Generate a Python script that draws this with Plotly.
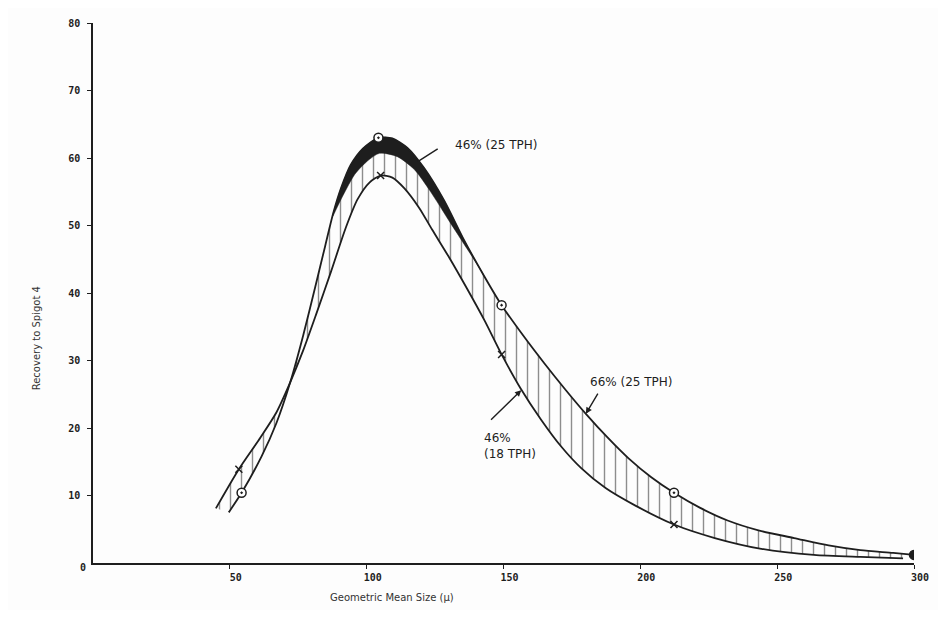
import plotly.graph_objects as go

# ---- data ----
# outer curve: 66% (25 TPH)
upper_x = [49.6, 54.3, 61.6, 67.0, 72.1, 76.8, 81.2, 84.8, 87.7, 90.6, 94.2, 98.6, 104.3, 109.4,
           114.9, 121.0, 128.3, 135.5, 142.8, 149.3, 157.2, 164.9, 172.8, 180.1, 188.0, 195.7,
           204.0, 212.3, 221.7, 231.9, 243.5, 256.2, 268.8, 280.4, 292.4, 300.0]
upper_y = [7.5, 10.4, 15.8, 20.7, 26.8, 33.7, 40.9, 46.9, 51.7, 55.5, 59.0, 61.4, 63.0, 62.9,
           61.5, 58.5, 53.7, 47.9, 42.6, 38.2, 33.7, 29.6, 25.6, 22.1, 18.6, 15.5,
           12.7, 10.4, 8.2, 6.3, 4.8, 3.7, 2.6, 1.9, 1.5, 1.2]
# inner edge of the black band: 46% (25 TPH)
band_x = [87.7, 91.3, 95.7, 100.4, 104.7, 111.2, 117.4, 123.2, 130.4, 136.6, 142.0]
band_y = [51.4, 54.4, 57.6, 59.6, 60.7, 60.2, 58.3, 55.1, 50.5, 46.6, 43.2]
# lower curve: 46% (18 TPH)
lower_x = [44.9, 53.3, 61.2, 67.0, 72.1, 76.8, 81.5, 87.0, 92.4, 96.7, 101.1, 105.1, 109.4, 113.8,
           119.2, 123.9, 130.1, 136.6, 143.1, 149.3, 156.2, 163.8, 171.0, 178.3, 187.3, 198.2,
           212.3, 227.2, 244.2, 263.4, 280.4, 296.0]
lower_y = [8.1, 13.9, 18.6, 22.3, 26.8, 31.5, 36.8, 43.2, 49.7, 53.9, 56.4, 57.4, 57.1, 55.5,
           52.6, 49.4, 45.3, 40.7, 35.9, 30.9, 25.9, 21.2, 17.3, 14.1, 11.1, 8.5,
           5.7, 3.7, 2.1, 1.2, 0.9, 0.7]
# plotted points
upper_pts_x = [54.3, 104.3, 149.3, 212.3, 300.0]
upper_pts_y = [10.4, 63.0, 38.2, 10.4, 1.2]
lower_pts_x = [53.3, 105.1, 149.3, 212.3]
lower_pts_y = [13.9, 57.4, 30.9, 5.7]

x_ticks = [50, 100, 150, 200, 250, 300]
y_ticks = [10, 20, 30, 40, 50, 60, 70, 80]

INK = "#1e1e1e"
SMOOTH = 0.7
fig = go.Figure()

# hatched region between the outer and lower curves
fig.add_trace(go.Scatter(
    x=upper_x + lower_x[::-1], y=upper_y + lower_y[::-1],
    mode="lines", line=dict(width=0, shape="spline", smoothing=SMOOTH),
    fill="toself", fillcolor="rgba(0,0,0,0)",
    fillpattern=dict(shape="|", size=11, solidity=0.13, fgcolor=INK, bgcolor="rgba(255,255,255,0)"),
    hoverinfo="skip", showlegend=False))

# black band between outer curve and 46% (25 TPH)
lo, hi = band_x[0], 142.8
bx = [x for x in upper_x if lo <= x <= hi]
by = [y for x, y in zip(upper_x, upper_y) if lo <= x <= hi]
fig.add_trace(go.Scatter(
    x=bx + band_x[::-1], y=by + band_y[::-1],
    mode="lines", line=dict(width=0.5, color=INK, shape="spline", smoothing=SMOOTH),
    fill="toself", fillcolor=INK, hoverinfo="skip", showlegend=False))

# curves
fig.add_trace(go.Scatter(x=upper_x, y=upper_y, mode="lines",
                         line=dict(color=INK, width=1.8, shape="spline", smoothing=SMOOTH),
                         showlegend=False))
fig.add_trace(go.Scatter(x=lower_x, y=lower_y, mode="lines",
                         line=dict(color=INK, width=1.8, shape="spline", smoothing=SMOOTH),
                         showlegend=False))
# markers
fig.add_trace(go.Scatter(x=upper_pts_x, y=upper_pts_y, mode="markers",
                         marker=dict(symbol="circle-dot", size=9,
                                     color=["white"] * 4 + [INK],
                                     line=dict(color=INK, width=1.5)),
                         showlegend=False))
fig.add_trace(go.Scatter(x=lower_pts_x, y=lower_pts_y, mode="markers",
                         marker=dict(symbol="x-thin", size=7, line=dict(color=INK, width=1.5)),
                         showlegend=False))

hand = dict(family="DejaVu Sans", size=12, color=INK)
ann = [
    # labels
    dict(x=147.5, y=62.0, text="46% (25 TPH)", showarrow=False, font=hand),
    dict(x=196.7, y=26.8, text="66% (25 TPH)", showarrow=False, font=hand),
    dict(x=152.5, y=17.3, text="46%<br>(18 TPH)", showarrow=False, font=hand, align="left"),
    # pointer lines
    dict(x=118.8, y=59.5, ax=126.5, ay=61.5, axref="x", ayref="y", text="",
         showarrow=True, arrowhead=0, arrowwidth=1.4, arrowcolor=INK),
    dict(x=180.1, y=22.1, ax=184.8, ay=25.3, axref="x", ayref="y", text="",
         showarrow=True, arrowhead=2, arrowsize=0.9, arrowwidth=1.4, arrowcolor=INK),
    dict(x=156.5, y=25.6, ax=144.9, ay=21.0, axref="x", ayref="y", text="",
         showarrow=True, arrowhead=2, arrowsize=0.9, arrowwidth=1.4, arrowcolor=INK),
]
for a in ann:
    a.setdefault("xref", "x")
    a.setdefault("yref", "y")
ann += [
    dict(xref="paper", yref="paper", x=-0.078, y=0.317, text="Recovery to Spigot 4",
         textangle=-90, showarrow=False, font=dict(family="DejaVu Sans", size=10, color="#333")),
    dict(xref="paper", yref="paper", x=0.286, y=-0.077, text="Geometric Mean Size (μ)",
         showarrow=False, font=dict(family="DejaVu Sans", size=10, color="#333")),
    dict(xref="paper", yref="paper", x=-0.018, y=-0.022, text="0", showarrow=False,
         font=dict(family="DejaVu Sans Mono", size=10, color=INK, weight="bold")),
]

tickfont = dict(family="DejaVu Sans Mono", size=10, color=INK, weight="bold")
fig.update_layout(
    width=930, height=602,
    margin=dict(l=85, r=17, t=9, b=47),
    paper_bgcolor="#fdfdfd", plot_bgcolor="#fdfdfd",
    annotations=ann,
    xaxis=dict(range=[0, 300], tickvals=x_ticks, ticktext=[str(v) for v in x_ticks],
               ticks="outside", ticklen=4, tickcolor=INK, showline=True, linecolor=INK,
               linewidth=2, showgrid=False, zeroline=False, tickfont=tickfont,
               ticklabelshift=6),
    yaxis=dict(range=[0, 80], tickvals=y_ticks, ticktext=[str(v) for v in y_ticks],
               ticks="outside", ticklen=4, tickcolor=INK, showline=True, linecolor=INK,
               linewidth=1.5, showgrid=False, zeroline=False, tickfont=tickfont,
               ticklabelstandoff=5),
)

fig.write_html("out.html")
